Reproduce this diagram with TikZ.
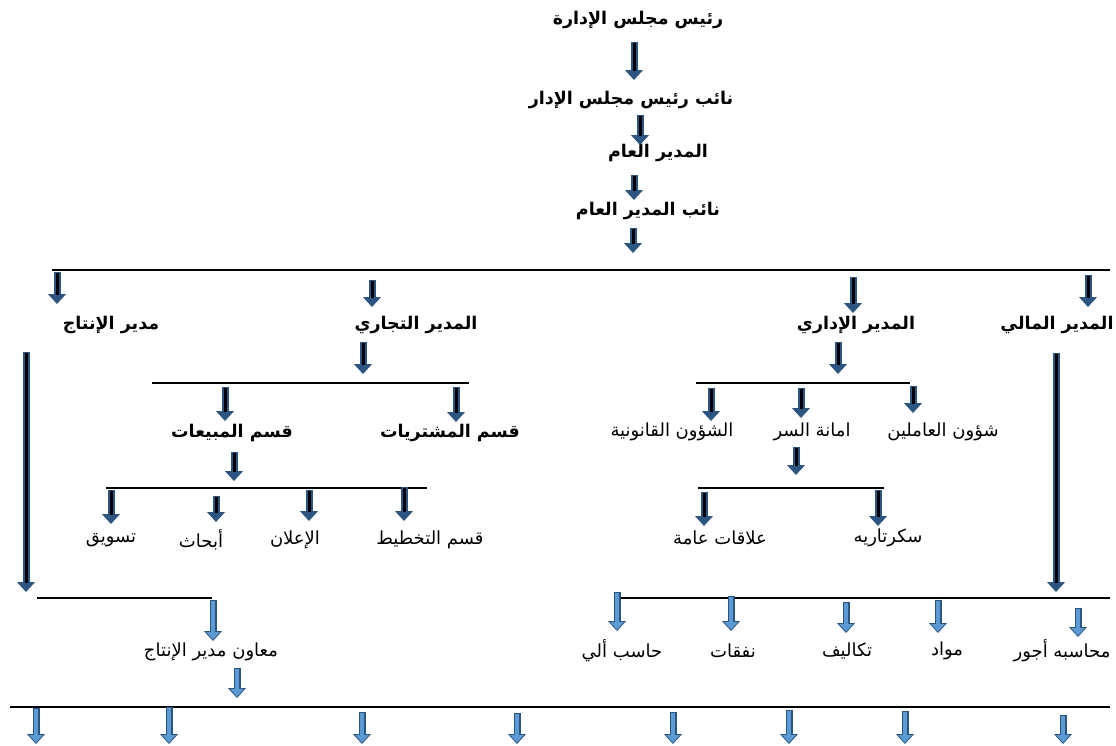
\documentclass[tikz,border=0pt]{standalone}
\usepackage{fontspec}
\newfontfamily\arabicfont[Script=Arabic]{DejaVu Sans}
\TeXXeTstate=1
\usetikzlibrary{arrows.meta}
\definecolor{arrowblue}{HTML}{2B5683}
\definecolor{arrowlight}{HTML}{5B9BD5}

\begin{document}
\begin{tikzpicture}[x=1pt, y=-1pt]
	\tikzset{
		title/.style={font=\arabicfont\bfseries\fontsize{17.5}{20}\selectfont, inner sep=0pt},
		unit/.style={font=\arabicfont\fontsize{18}{21}\selectfont, inner sep=0pt},
		bar/.style={line width=1.6pt, black},
		darr/.style={draw=arrowblue, line width=7pt, -{Triangle[width=18pt, length=10pt, line width=0.8pt, fill=arrowblue]},
			postaction={draw=black, line width=3pt, -, shorten >=9pt, shorten <=1pt}},
		larr/.style={draw=arrowblue, line width=7pt, -{Triangle[width=18pt, length=10pt, line width=0.8pt, fill=arrowlight]},
			postaction={draw=arrowlight, line width=4pt, -, shorten >=9pt, shorten <=1.2pt}},
	}
	\useasboundingbox (0,0) rectangle (1116,745);
	% top of the chart
	\node[title] (chair) at (638,20) {\beginR رئيس مجلس الإدارة\endR};
	\node[title] (vchair) at (631,100) {\beginR نائب رئيس مجلس الإدار\endR};
	\node[title] (gm) at (658,153) {\beginR المدير العام\endR};
	\node[title] (vgm) at (648,211) {\beginR نائب المدير العام\endR};
	\draw[darr] (634,42) -- (634,80);
	\draw[darr] (640,115) -- (640,145);
	\draw[darr] (634,175) -- (634,200);
	\draw[darr] (633,228) -- (633,253);
	\draw[bar] (52,270) -- (1110,270);
	% managers
	\node[title] (prod) at (111,325) {\beginR مدير الإنتاج\endR};
	\node[title] (trade) at (416,325) {\beginR المدير التجاري\endR};
	\node[title] (admin) at (856,325) {\beginR المدير الإداري\endR};
	\node[title] (fin) at (1057,325) {\beginR المدير المالي\endR};
	\draw[darr] (57,272) -- (57,304);
	\draw[darr] (372,280) -- (372,307);
	\draw[darr] (853,277) -- (853,313);
	\draw[darr] (1088,275) -- (1088,307);
	% commercial branch
	\draw[darr] (363,342) -- (363,374);
	\draw[bar] (152,383) -- (469,383);
	\draw[darr] (225,387) -- (225,421);
	\draw[darr] (456,387) -- (456,422);
	\node[title] (sales) at (232,433) {\beginR قسم المبيعات\endR};
	\node[title] (purch) at (450,433) {\beginR قسم المشتريات\endR};
	\draw[darr] (234,452) -- (234,481);
	\draw[bar] (106,488) -- (427,488);
	\draw[darr] (111,490) -- (111,524);
	\draw[darr] (216,496) -- (216,522);
	\draw[darr] (309,490) -- (309,521);
	\draw[darr] (404,487) -- (404,521);
	\node[unit] (mkt) at (111,540) {\beginR تسويق\endR};
	\node[unit] (res) at (201,540) {\beginR أبحاث\endR};
	\node[unit] (adv) at (295,540) {\beginR الإعلان\endR};
	\node[unit] (plan) at (430,540) {\beginR قسم التخطيط\endR};
	% administrative branch
	\draw[darr] (838,342) -- (838,374);
	\draw[bar] (696,383) -- (910,383);
	\draw[darr] (711,388) -- (711,421);
	\draw[darr] (801,388) -- (801,418);
	\draw[darr] (913,386) -- (913,413);
	\node[unit] (legal) at (672,432) {\beginR الشؤون القانونية\endR};
	\node[unit] (secr) at (812,432) {\beginR امانة السر\endR};
	\node[unit] (staff) at (943,432) {\beginR شؤون العاملين\endR};
	\draw[darr] (796,447) -- (796,475);
	\draw[bar] (698,488) -- (884,488);
	\draw[darr] (704,492) -- (704,526);
	\draw[darr] (878,490) -- (878,526);
	\node[unit] (pr) at (720,538) {\beginR علاقات عامة\endR};
	\node[unit] (sec) at (888,538) {\beginR سكرتاريه\endR};
	% production branch
	\draw[darr] (26,352) -- (26,592);
	\draw[bar] (37,598) -- (212,598);
	\draw[larr] (213,600) -- (213,641);
	\node[unit] (asst) at (211,652) {\beginR معاون مدير الإنتاج\endR};
	\draw[larr] (237,668) -- (237,698);
	% financial branch
	\draw[darr] (1056,353) -- (1056,592);
	\draw[bar] (620,598) -- (1110,598);
	\draw[larr] (617,592) -- (617,631);
	\draw[larr] (731,596) -- (731,631);
	\draw[larr] (846,602) -- (846,633);
	\draw[larr] (938,600) -- (938,633);
	\draw[larr] (1078,608) -- (1078,637);
	\node[unit] (comp) at (622,651) {\beginR حاسب ألي\endR};
	\node[unit] (exp) at (733,651) {\beginR نفقات\endR};
	\node[unit] (cost) at (847,651) {\beginR تكاليف\endR};
	\node[unit] (mat) at (947,651) {\beginR مواد\endR};
	\node[unit] (wage) at (1062,651) {\beginR محاسبه أجور\endR};
	% bottom row
	\draw[bar] (10,707) -- (1110,707);
	\foreach \x/\y in {36/708, 169/707, 362/712, 517/713, 673/712, 789/710, 905/711, 1063/715}
		\draw[larr] (\x,\y) -- (\x,744);
\end{tikzpicture}
\end{document}
